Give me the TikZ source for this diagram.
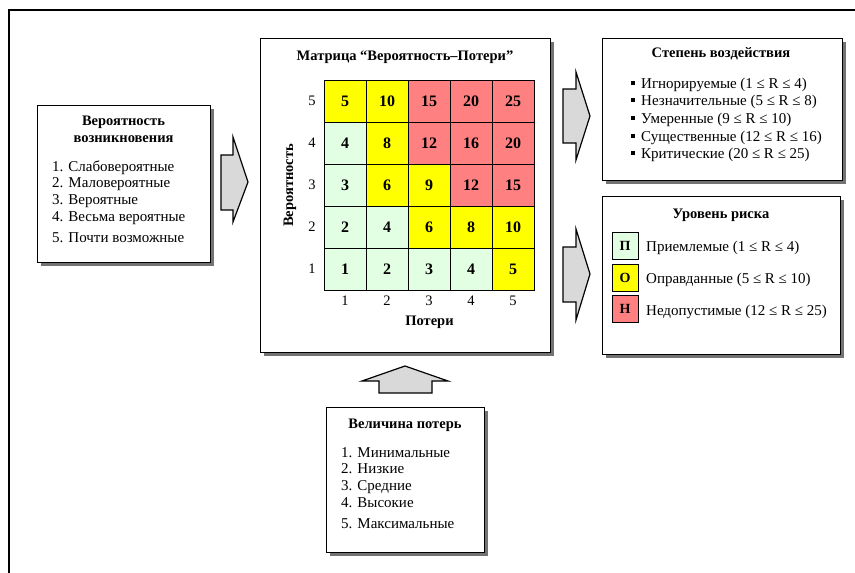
\documentclass[tikz,border=0pt]{standalone}
\usepackage{fontspec}
\setmainfont{Liberation Serif}
\usetikzlibrary{shadows,positioning}

\definecolor{riskgreen}{RGB}{227,255,227}
\definecolor{riskyellow}{RGB}{255,255,0}
\definecolor{riskred}{RGB}{255,128,128}

\tikzset{
  panel/.style={draw, line width=0.8pt, fill=white, anchor=north west, inner sep=0,
    drop shadow={shadow xshift=4pt, shadow yshift=-4pt, fill=black!55, opacity=1}},
  paneltitle/.style={font=\bfseries\fontsize{14.5}{16}\selectfont, align=center, inner sep=0},
  listtext/.style={font=\fontsize{15}{16}\selectfont, anchor=base west, inner sep=0},
  cell/.style={draw, line width=0.8pt, minimum width=42, minimum height=42, inner sep=0,
    font=\bfseries\fontsize{16}{16}\selectfont},
  legendbox/.style={draw, line width=0.8pt, minimum width=26, minimum height=27, inner sep=0,
    font=\bfseries\fontsize{14}{14}\selectfont},
  axislabel/.style={font=\fontsize{14.5}{14}\selectfont, inner sep=0},
  blockarr/.style={draw, line width=1.2pt, fill=black!15, line join=miter},
}

\begin{document}
\begin{tikzpicture}[x=1pt, y=-1pt]
  \useasboundingbox (0,0) rectangle (855,573);

  % outer frame (open at right and bottom)
  \draw[line width=2.2pt] (9,573) -- (9,10) -- (855,10);

  % panels
  \node[panel, minimum width=173, minimum height=157] (prob) at (37,105) {};
  \node[panel, minimum width=290, minimum height=314] (matrix) at (260,38) {};
  \node[panel, minimum width=240, minimum height=142] (impact) at (602,38) {};
  \node[panel, minimum width=238, minimum height=158] (level) at (602,196) {};
  \node[panel, minimum width=158, minimum height=145] (loss) at (326,407) {};

  % Вероятность возникновения
  \node[paneltitle, anchor=base] (probtitle) at (123.5,125) {Вероятность};
  \node[paneltitle, anchor=base] (probtitle2) at (123.5,142) {возникновения};
  \foreach \i/\txt/\y in {1/Слабовероятные/171, 2/Маловероятные/187, 3/Вероятные/204,
                          4/Весьма вероятные/221, 5/Почти возможные/242}
    \node[listtext] (prob-\i) at (52,\y) {\i. \txt};

  % Матрица
  \node[paneltitle, anchor=base] (mattitle) at (405,60) {Матрица “Вероятность–Потери”};
  \foreach \r in {1,...,5} {
    \foreach \c in {1,...,5} {
      \pgfmathtruncatemacro{\v}{\r*\c}
      \ifnum\v<5 \def\cellcol{riskgreen}\else
        \ifnum\v<11 \def\cellcol{riskyellow}\else \def\cellcol{riskred}\fi\fi
      \node[cell, fill=\cellcol] (cell-\r-\c) at ({303+42*\c},{311-42*\r}) {\v};
    }
    \node[axislabel] (row-\r) at (312,{311-42*\r}) {\r};
    \node[axislabel, anchor=base] (col-\r) at ({303+42*\r},305) {\r};
  }
  \node[paneltitle, anchor=base] (xlabel) at (429.5,325) {Потери};
  \node[paneltitle, rotate=90] (ylabel) at (290,185.5) {Вероятность};

  % Степень воздействия
  \node[paneltitle, anchor=base] (imptitle) at (721,57) {Степень воздействия};
  \foreach \i/\txt/\y in {1/Игнорируемые (1 ≤ R ≤ 4)/88, 2/Незначительные (5 ≤ R ≤ 8)/105,
                          3/Умеренные (9 ≤ R ≤ 10)/123, 4/Существенные (12 ≤ R ≤ 16)/141,
                          5/Критические (20 ≤ R ≤ 25)/158}
    \node[listtext] (imp-\i) at (631,\y) {\rule[3pt]{4pt}{4pt}\hspace{6pt}\txt};

  % Уровень риска
  \node[paneltitle, anchor=base] (lvltitle) at (721,218) {Уровень риска};
  \node[legendbox, fill=riskgreen] (lgP) at (625,246) {П};
  \node[legendbox, fill=riskyellow] (lgO) at (625,278) {О};
  \node[legendbox, fill=riskred] (lgN) at (625,309) {Н};
  \node[listtext] (lgPtext) at (646,251) {Приемлемые (1 ≤ R ≤ 4)};
  \node[listtext] (lgOtext) at (646,283) {Оправданные (5 ≤ R ≤ 10)};
  \node[listtext] (lgNtext) at (646,315) {Недопустимые (12 ≤ R ≤ 25)};

  % Величина потерь
  \node[paneltitle, anchor=base] (losstitle) at (405,428) {Величина потерь};
  \foreach \i/\txt/\y in {1/Минимальные/457, 2/Низкие/473, 3/Средние/490,
                          4/Высокие/507, 5/Максимальные/528}
    \node[listtext] (loss-\i) at (341,\y) {\i. \txt};

  % block arrows
  \draw[blockarr] (221,155) -- (233,155) -- (233,137) -- (248,182)
    -- (233,222) -- (233,210) -- (221,210) -- cycle;
  \draw[blockarr] (563,89) -- (576,89) -- (576,72) -- (590,116)
    -- (576,160) -- (576,143) -- (563,143) -- cycle;
  \draw[blockarr] (563,247) -- (576,247) -- (576,229) -- (590,274)
    -- (576,320) -- (576,302) -- (563,302) -- cycle;
  \draw[blockarr] (379,393) -- (379,381) -- (362,381) -- (405,366)
    -- (448,381) -- (432,381) -- (432,393) -- cycle;
\end{tikzpicture}
\end{document}
